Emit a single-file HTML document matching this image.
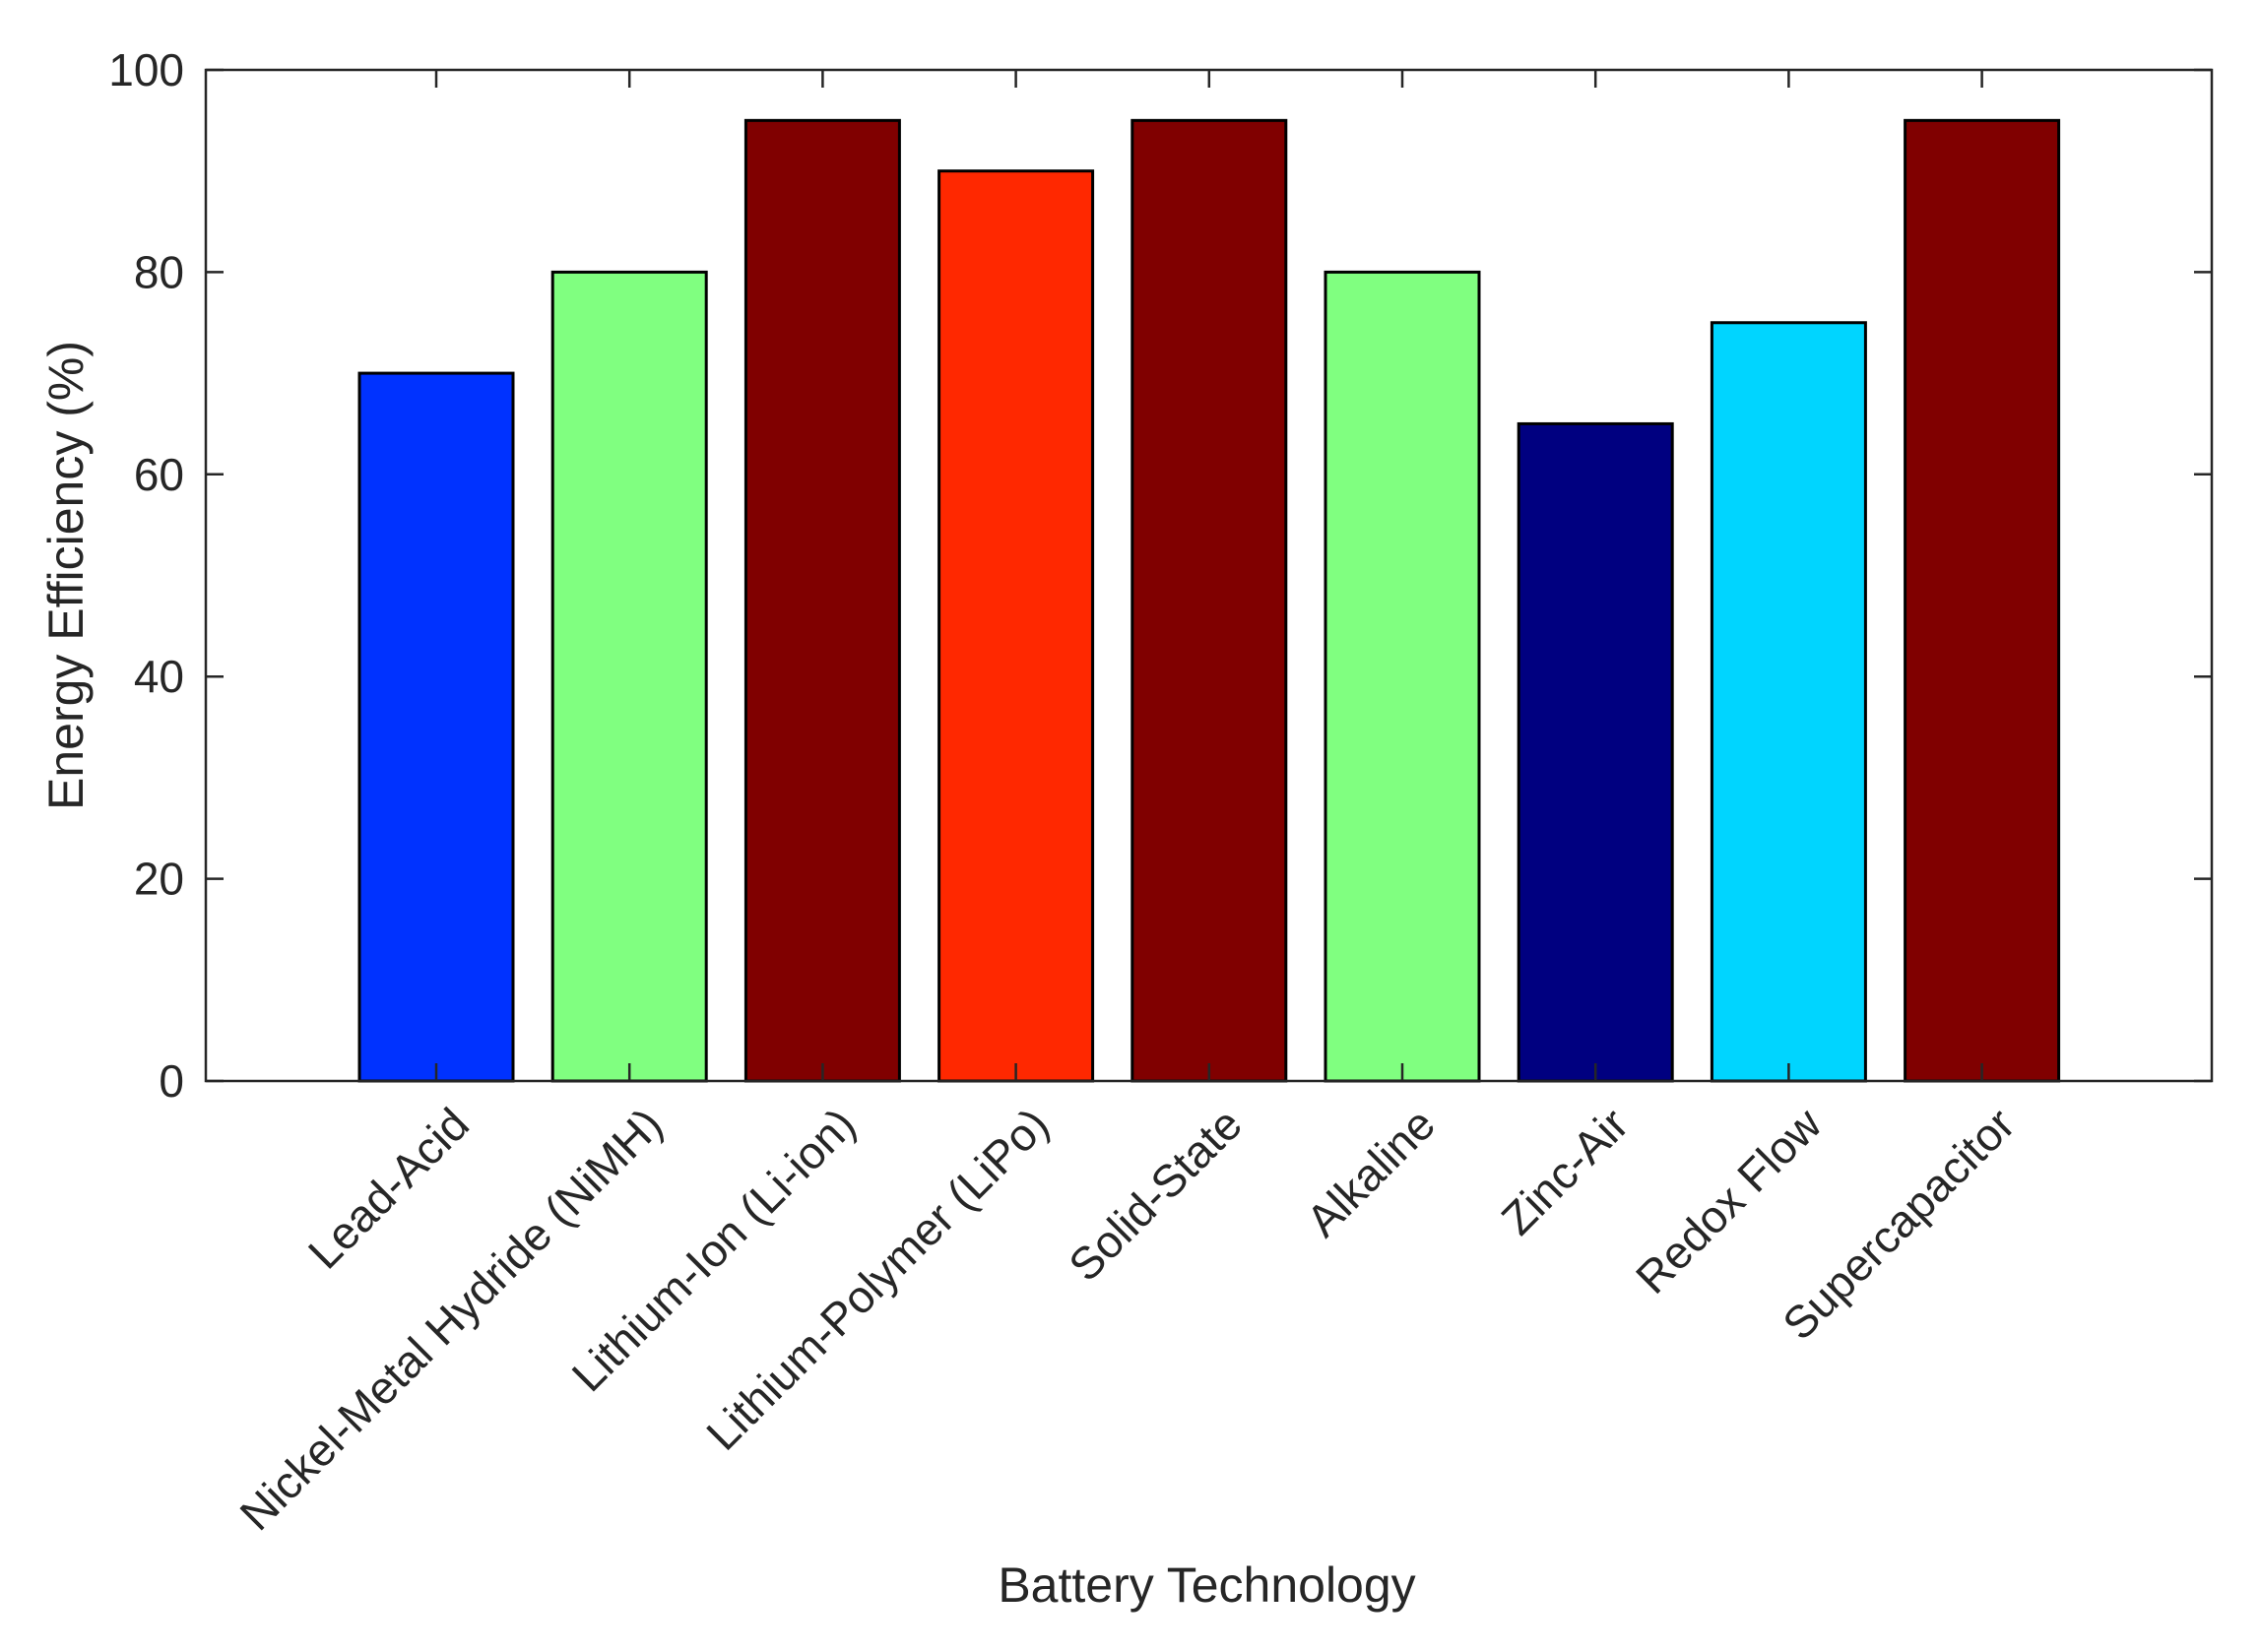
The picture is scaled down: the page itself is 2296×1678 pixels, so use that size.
<!DOCTYPE html>
<html><head><meta charset="utf-8"><style>html,body{margin:0;padding:0;background:#fff}</style></head>
<body>
<svg id="chart" width="2296" height="1673" xmlns="http://www.w3.org/2000/svg" font-family="Liberation Sans, sans-serif">
<rect width="2296" height="1673" fill="#fff"/>
<g id="bars"></g>
<g id="axes"></g>
</svg>
<script>
const categories=["Lead-Acid","Nickel-Metal Hydride (NiMH)","Lithium-Ion (Li-ion)","Lithium-Polymer (LiPo)","Solid-State","Alkaline","Zinc-Air","Redox Flow","Supercapacitor"];
const values=[70,80,95,90,95,80,65,75,95];
const colors=["#0032ff","#80ff80","#800000","#ff2800","#800000","#80ff80","#000080","#00d5ff","#800000"];
const yTicks=[0,20,40,60,80,100];
const NS="http://www.w3.org/2000/svg";
const L=209,R=2246,T=71,B=1098;
const x0=443,step=196.2,bw=156;
function xs(i){return x0+i*step;}
function ys(v){return B-(v/100)*(B-T);}
function mk(t,a,p){const e=document.createElementNS(NS,t);for(const k in a)e.setAttribute(k,a[k]);p.appendChild(e);return e;}
const bars=document.getElementById('bars'),axes=document.getElementById('axes');
values.forEach((v,i)=>{
  const r=mk('rect',{x:xs(i)-bw/2,y:ys(v),width:bw,height:ys(0)-ys(v),fill:colors[i],stroke:'#000','stroke-width':3},bars);
  
  
});
const frame=mk('rect',{x:L,y:T,width:R-L,height:B-T,fill:'none',stroke:'#262626','stroke-width':2.5},axes);


yTicks.forEach(v=>{
  const y=ys(v);
  mk('line',{x1:L,x2:L+18,y1:y,y2:y,stroke:'#262626','stroke-width':2.5},axes);
  mk('line',{x1:R,x2:R-18,y1:y,y2:y,stroke:'#262626','stroke-width':2.5},axes);
  const t=mk('text',{x:L-22,y:y+16,'text-anchor':'end','font-size':46,fill:'#262626'},axes);
  t.textContent=v;
  
  
});
categories.forEach((c,i)=>{
  const x=xs(i);
  mk('line',{x1:x,x2:x,y1:B,y2:B-18,stroke:'#262626','stroke-width':2.5},axes);
  mk('line',{x1:x,x2:x,y1:T,y2:T+18,stroke:'#262626','stroke-width':2.5},axes);
  const t=mk('text',{x:x+36,y:B+47,'text-anchor':'end','font-size':46,fill:'#262626',transform:`rotate(-45 ${x+36} ${B+47})`},axes);
  t.textContent=c;
  
  
});
const yl=mk('text',{x:84,y:(T+B)/2,'text-anchor':'middle','font-size':50,fill:'#262626',transform:`rotate(-90 84 ${(T+B)/2})`},axes);
yl.textContent='Energy Efficiency (%)';


const xl=mk('text',{x:(L+R)/2-2,y:1627,'text-anchor':'middle','font-size':50,fill:'#262626'},axes);
xl.textContent='Battery Technology';


</script>
</body></html>
